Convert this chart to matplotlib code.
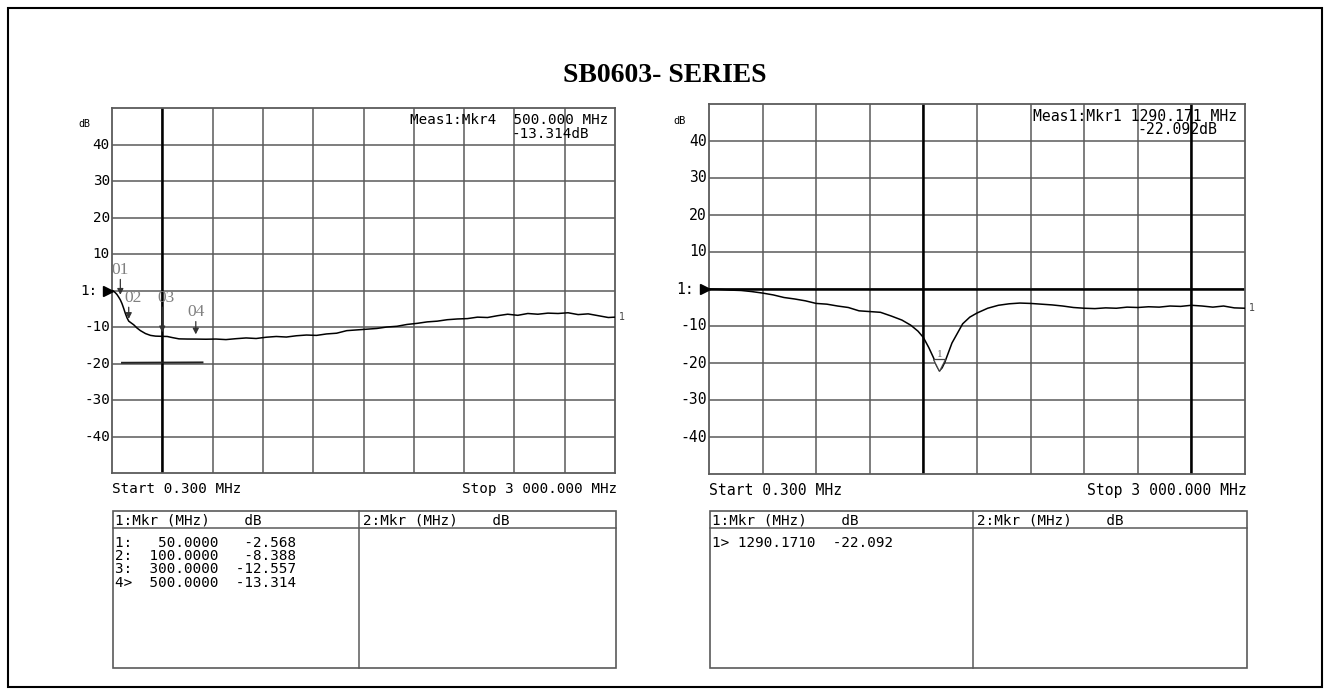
import matplotlib
matplotlib.use("Agg")
import matplotlib.pyplot as plt
import matplotlib.transforms as mtransforms
from matplotlib.patches import Rectangle

title = "SB0603- SERIES"
start_mhz = 0.3
stop_mhz = 3000.0
db_ticks = [40, 30, 20, 10, 0, -10, -20, -30, -40]

left_freq = [0.3, 10, 20, 30, 40, 50, 60, 70, 80, 90, 100, 115, 130, 150, 170, 200,
             230, 260, 300, 330, 360, 400, 450, 500, 560, 620, 680, 740, 800, 860,
             920, 980, 1040, 1100, 1160, 1220, 1280, 1340, 1400, 1460, 1520, 1580,
             1640, 1700, 1760, 1820, 1880, 1940, 2000, 2060, 2120, 2180, 2240, 2300,
             2360, 2420, 2480, 2540, 2600, 2660, 2720, 2780, 2840, 2900, 2960, 3000]
left_db = [0.0, -0.2, -0.6, -1.1, -1.8, -2.57, -3.6, -4.9, -6.3, -7.5, -8.39, -8.9,
           -9.4, -10.3, -11.0, -11.8, -12.3, -12.5, -12.56, -12.6, -12.9, -13.25,
           -13.3, -13.31, -13.35, -13.3, -13.45, -13.2, -13.0, -13.15, -12.8, -12.6,
           -12.75, -12.4, -12.2, -12.3, -11.9, -11.7, -11.0, -10.8, -10.6, -10.4,
           -10.0, -9.8, -9.3, -9.0, -8.6, -8.4, -8.0, -7.8, -7.7, -7.3, -7.4, -6.9,
           -6.5, -6.8, -6.3, -6.5, -6.2, -6.3, -6.1, -6.6, -6.4, -6.9, -7.4, -7.3]
left_trace2_freq = [60, 540]
left_trace2_db = [-19.8, -19.7]
left_mkr_freq = [50.0, 100.0, 300.0, 500.0]
left_mkr_db = [-2.568, -8.388, -12.557, -13.314]
left_mkr_names = ["01", "02", "03", "04"]
left_active = 3

right_freq = [0.3, 60, 120, 180, 240, 300, 360, 420, 480, 540, 600, 660, 720, 780,
              840, 900, 960, 1020, 1080, 1130, 1170, 1200, 1230, 1256, 1275, 1290.171,
              1305, 1320, 1340, 1360, 1390, 1420, 1460, 1500, 1560, 1620, 1680, 1740,
              1800, 1860, 1920, 1980, 2040, 2100, 2160, 2220, 2280, 2340, 2400, 2460,
              2520, 2580, 2640, 2700, 2760, 2820, 2880, 2940, 3000]
right_db = [0.0, -0.1, -0.3, -0.4, -0.7, -1.1, -1.6, -2.3, -2.7, -3.2, -3.9, -4.1,
            -4.6, -5.0, -5.9, -6.1, -6.3, -7.3, -8.4, -9.8, -11.4, -13.1, -15.8,
            -18.5, -20.8, -22.092, -21.3, -19.8, -17.2, -14.6, -12.0, -9.4, -7.6,
            -6.5, -5.2, -4.4, -4.0, -3.8, -3.9, -4.1, -4.3, -4.6, -5.0, -5.2, -5.3,
            -5.1, -5.2, -4.9, -5.0, -4.8, -4.9, -4.6, -4.7, -4.4, -4.6, -4.9, -4.6,
            -5.1, -5.2]
right_mkr_freq = [1290.171]
right_mkr_db = [-22.092]
right_active = 0

# ---- styles ----
mono = "DejaVu Sans Mono"
grid_col = "#5a5a5a"
fig_w, fig_h = 1330, 695


def draw_screen(ax, freq, db, heavy_x, heavy_zero, fs, mkr_freq, mkr_db, active):
    div = (stop_mhz - start_mhz) / 10
    ax.set_xlim(start_mhz, stop_mhz)
    ax.set_ylim(-50, 50)
    ax.set_xticks([start_mhz + k * div for k in range(1, 10)])
    ax.set_yticks(db_ticks)
    ax.tick_params(length=0, labelleft=False, labelbottom=False)
    ax.grid(True, color=grid_col, lw=1.1)
    for s in ax.spines.values():
        s.set_color(grid_col)
        s.set_linewidth(1.3)
    for k in heavy_x:
        ax.axvline(start_mhz + k * div, color="black", lw=1.8, zorder=2)
    if heavy_zero:
        ax.axhline(0, color="black", lw=1.8, zorder=2)

    ax.plot(freq, db, color="black", lw=1.1, zorder=4)
    ax.annotate("1", (freq[-1], db[-1]), xytext=(3, 0), textcoords="offset points",
                ha="left", va="center", fontsize=7, color="#444444",
                annotation_clip=False)

    ylab = mtransforms.blended_transform_factory(ax.transAxes, ax.transData)
    for v in db_ticks:
        if v == 0:
            ax.text(-0.028, v, "1:", transform=ylab, ha="right", va="center",
                    family=mono, fontsize=fs)
        else:
            ax.text(-0.004, v, f"{v}", transform=ylab, ha="right", va="center",
                    family=mono, fontsize=fs)
    ax.plot([-0.008], [0], marker=">", ms=7, color="black", transform=ylab,
            clip_on=False, zorder=5)
    ax.text(-0.055, 0.955, "dB", transform=ax.transAxes, ha="center", va="center",
            family=mono, fontsize=fs * 0.7)

    f_act, d_act = mkr_freq[active], mkr_db[active]
    ax.text(0.986, 0.967, f"Meas1:Mkr{active + 1} {f_act:8.3f} MHz",
            transform=ax.transAxes, ha="right", va="center", family=mono,
            fontsize=fs, zorder=6)
    ax.text(0.948, 0.93, f"{d_act:.3f}dB", transform=ax.transAxes, ha="right",
            va="center", family=mono, fontsize=fs, zorder=6)

    ax.text(0.0, -0.045, f"Start {start_mhz:.3f} MHz", transform=ax.transAxes,
            ha="left", va="center", family=mono, fontsize=fs)
    ax.text(1.004, -0.045, "Stop 3 000.000 MHz", transform=ax.transAxes,
            ha="right", va="center", family=mono, fontsize=fs)


def draw_table(ov, x0, x1, xmid, mkr_freq, mkr_db, active, fs):
    top, head, bottom = 511, 528, 668
    ov.add_patch(Rectangle((x0, top), x1 - x0, bottom - top, fill=False,
                           ec=grid_col, lw=1.2))
    ov.plot([x0, x1], [head, head], color=grid_col, lw=1.1)
    ov.plot([xmid, xmid], [top, bottom], color=grid_col, lw=1.1)
    ov.text(x0 + 2, 521, "1:Mkr (MHz)    dB", family=mono, fontsize=fs,
            ha="left", va="center")
    ov.text(xmid + 4, 521, "2:Mkr (MHz)    dB", family=mono, fontsize=fs,
            ha="left", va="center")
    for i, (f, d) in enumerate(zip(mkr_freq, mkr_db)):
        sep = ">" if i == active else ":"
        ov.text(x0 + 2, 543 + i * 13.2, f"{i + 1}{sep} {f:9.4f}  {d:7.3f}",
                family=mono, fontsize=fs, ha="left", va="center")


fig = plt.figure(figsize=(fig_w / 100, fig_h / 100), dpi=100)

ov = fig.add_axes([0, 0, 1, 1])
ov.set_xlim(0, fig_w)
ov.set_ylim(fig_h, 0)
ov.axis("off")
ov.add_patch(Rectangle((8, 8), fig_w - 16, fig_h - 16, fill=False, ec="black", lw=1.5))
ov.text(665, 75, title, family="Liberation Serif", fontweight="bold", fontsize=20,
        ha="center", va="center")

# left screen
axl = fig.add_axes([112 / fig_w, 1 - 473 / fig_h, 503 / fig_w, 365 / fig_h])
draw_screen(axl, left_freq, left_db, [1], False, 10.3,
            left_mkr_freq, left_mkr_db, left_active)
axl.plot(left_trace2_freq, left_trace2_db, color="#222222", lw=1.4, zorder=3)

arrow_top = [5.6, 3.8, 8.0, 4.8]
arrow_tip = [1.4, 0.6, 1.1, 1.3]
label_dx = [0, 3, 3, 0]
for name, f, d, top, tip, dx in zip(left_mkr_names, left_mkr_freq, left_mkr_db,
                                    arrow_top, arrow_tip, label_dx):
    axl.annotate("", xy=(f, d + tip), xytext=(f, d + top),
                 arrowprops=dict(arrowstyle="-|>,head_length=0.35,head_width=0.18",
                                 lw=0.9, color="#333333", shrinkA=0, shrinkB=0),
                 zorder=5)
    axl.annotate(name, (f, d + top), xytext=(dx, 1), textcoords="offset points",
                 ha="center", va="bottom", family="Liberation Serif", fontsize=12.5,
                 color="#808080", zorder=5)

# right screen
axr = fig.add_axes([709 / fig_w, 1 - 474 / fig_h, 536 / fig_w, 370 / fig_h])
draw_screen(axr, right_freq, right_db, [4, 9], True, 10.6,
            right_mkr_freq, right_mkr_db, right_active)
for f, d in zip(right_mkr_freq, right_mkr_db):
    axr.plot([f], [d + 1.6], marker="v", ms=9, mfc="white", mec="#444444",
             mew=0.9, zorder=5)
    axr.annotate("1", (f, d + 3.3), ha="center", va="bottom",
                 family="Liberation Serif", fontsize=8, color="#666666", zorder=5)

draw_table(ov, 113, 616, 359, left_mkr_freq, left_mkr_db, left_active, 10.3)
draw_table(ov, 710, 1247, 973, right_mkr_freq, right_mkr_db, right_active, 10.3)

fig.savefig("out.png", dpi=100)
